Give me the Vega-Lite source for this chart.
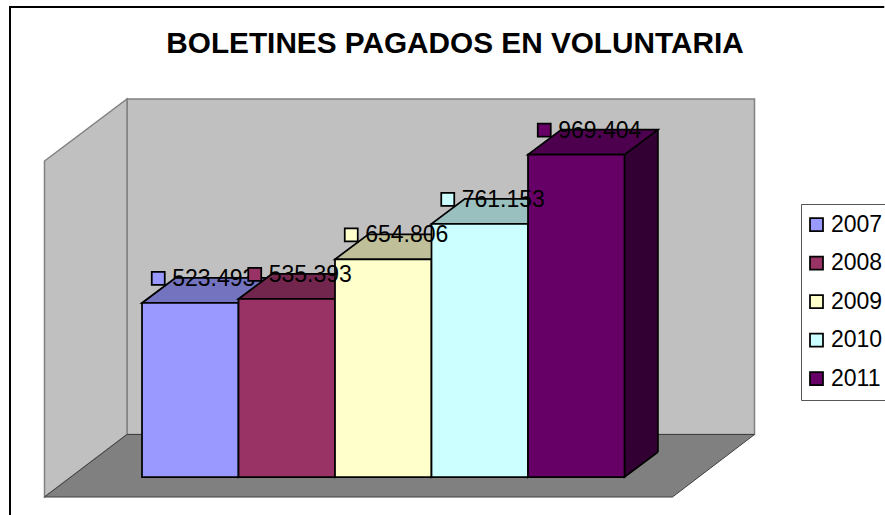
{
"$schema":"https://vega.github.io/schema/vega-lite/v6.json",
"width":885,"height":515,
"autosize":{"type":"fit","contains":"padding"},
"padding":0,
"background":"white",
"view":{"stroke":null},
"config":{"font":"Liberation Sans"},
"title":{"text":"BOLETINES PAGADOS EN VOLUNTARIA","anchor":"middle","frame":"group","orient":"top","offset":-61,"dx":14.5,"dy":28,"baseline":"bottom","font":"Liberation Sans","fontSize":29.75,"fontWeight":"bold","color":"black"},
"data":{"values":[
{"year":"2007","value":523493,"label":"523.493"},
{"year":"2008","value":535393,"label":"535.393"},
{"year":"2009","value":654806,"label":"654.806"},
{"year":"2010","value":761153,"label":"761.153"},
{"year":"2011","value":969404,"label":"969.404"}
]},
"encoding":{
"x":{"field":"year","type":"nominal","axis":null,"sort":null,"scale":{"type":"band","domain":["2007","2008","2009","2010","2011"],"range":[142,624.5],"paddingInner":0,"paddingOuter":0}},
"y":{"field":"value","type":"quantitative","axis":null,"scale":{"domain":[0,1000000],"range":[477,144.5],"nice":false,"zero":true}}
},
"layer":[
{"data":{"values":[{"year":"2007","value":0}]},
 "mark":{"type":"point","filled":false,"opacity":1,"size":4,"stroke":"black","strokeWidth":2,"shape":"M-180.25,38L-180.25,-470L694,-470"}},
{"data":{"values":[{"year":"2007","value":0}]},
 "mark":{"type":"point","filled":true,"opacity":1,"size":4,"fill":"#C0C0C0","stroke":"#808080","strokeWidth":1.5,"shape":"M-63.25,-378L564.25,-378L564.25,-42.5L-63.25,-42.5Z"}},
{"data":{"values":[{"year":"2007","value":0}]},
 "mark":{"type":"point","filled":true,"opacity":1,"size":4,"fill":"#C0C0C0","stroke":"#808080","strokeWidth":1.5,"shape":"M-145.75,20L-63.25,-42.5L-63.25,-378L-145.75,-316Z"}},
{"data":{"values":[{"year":"2007","value":0}]},
 "mark":{"type":"point","filled":true,"opacity":1,"size":4,"fill":"#808080","stroke":"#404040","strokeWidth":1,"shape":"M-145.75,20L-63.25,-42.5L564.25,-42.5L482.25,20Z"}},
{"mark":{"type":"bar","xOffset":33.4,"x2Offset":33.4,"yOffset":-25,"y2Offset":-25,"strokeWidth":0},
 "encoding":{"fill":{"field":"year","type":"nominal","legend":null,"scale":{"domain":["2007","2008","2009","2010","2011"],"range":["#4D4D80","#4D1A33","#808066","#668080","#330033"]}}}},
{"mark":{"type":"point","filled":true,"opacity":1,"size":4,"stroke":"black","strokeWidth":1.75,"shape":"M48.25,-25L48.25,0L81.65,-25"},
 "encoding":{"y":{"datum":0,"type":"quantitative"},"fill":{"field":"year","type":"nominal","legend":null,"scale":{"domain":["2007","2008","2009","2010","2011"],"range":["#4D4D80","#4D1A33","#808066","#668080","#330033"]}}}},
{"mark":{"type":"rule","xOffset":81.65,"yOffset":-25,"y2Offset":-25,"stroke":"black","strokeWidth":1.75},
 "encoding":{"y2":{"datum":0}}},
{"mark":{"type":"point","filled":true,"opacity":1,"size":4,"stroke":"black","strokeWidth":1.75,"shape":"M-48.25,0L48.25,0L81.65,-25L-14.85,-25Z"},
 "encoding":{"fill":{"field":"year","type":"nominal","legend":null,"scale":{"domain":["2007","2008","2009","2010","2011"],"range":["#7373BF","#73264D","#BFBF99","#99BFBF","#4D004D"]}}}},
{"mark":{"type":"bar","stroke":"black","strokeWidth":1.75},
 "encoding":{"fill":{"field":"year","type":"nominal","scale":{"domain":["2007","2008","2009","2010","2011"],"range":["#9999FF","#993366","#FFFFCC","#CCFFFF","#660066"]},
  "legend":{"title":null,"orient":"none","legendX":801,"legendY":204,"symbolType":"square","symbolSize":169,"symbolStrokeColor":"black","symbolStrokeWidth":1.75,"symbolOffset":-5,"labelFont":"Liberation Sans","labelFontSize":23,"labelColor":"black","labelLimit":80,"rowPadding":14.5,"strokeColor":"#555555","fillColor":"white","padding":9,"labelOffset":3}}}},
{"mark":{"type":"text","align":"left","baseline":"middle","font":"Liberation Sans","fontSize":23,"color":"black","xOffset":-18,"yOffset":-24},
 "encoding":{"text":{"field":"label","type":"nominal"}}},
{"mark":{"type":"point","shape":"square","filled":true,"opacity":1,"size":169,"stroke":"black","strokeWidth":1.75,"xOffset":-32,"yOffset":-24.5},
 "encoding":{"fill":{"field":"year","type":"nominal","legend":null,"scale":{"domain":["2007","2008","2009","2010","2011"],"range":["#9999FF","#993366","#FFFFCC","#CCFFFF","#660066"]}}}}
],
"resolve":{"scale":{"fill":"independent"}}
}
